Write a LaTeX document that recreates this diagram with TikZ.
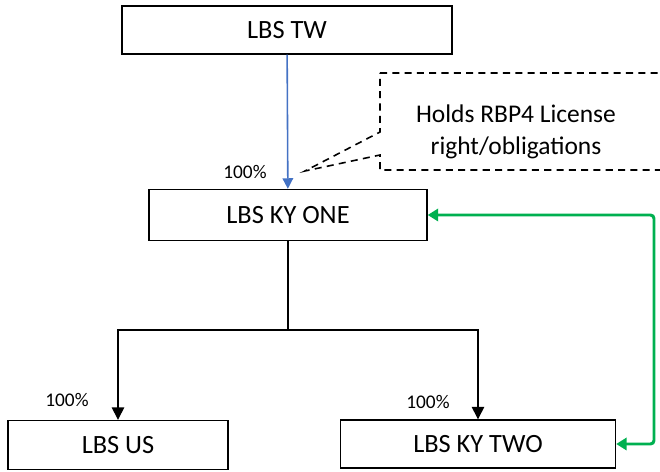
\documentclass[tikz,border=0pt]{standalone}
\usepackage{fontspec}
\setmainfont{Carlito}
\usetikzlibrary{arrows.meta}
\definecolor{linkblue}{RGB}{68,114,196}
\definecolor{linkgreen}{RGB}{0,176,80}
\tikzset{
	entity/.style={draw, line width=0.8pt, fill=white, inner sep=0pt, font=\fontsize{15}{18}\selectfont},
	share/.style={font=\fontsize{11}{13}\selectfont},
	owns/.style={line width=0.8pt, -{Triangle[length=7pt,width=7pt]}},
}
\begin{document}
\begin{tikzpicture}[x=0.02cm, y=-0.02cm]
		\clip (0,0) rectangle (660,472);
		
		\node[entity, minimum width=6.6cm, minimum height=0.96cm] (tw) at (287,30) {LBS TW};
		\node[entity, minimum width=5.56cm, minimum height=1.02cm] (kyone) at (288,215) {LBS KY ONE};
		\node[entity, minimum width=4.4cm, minimum height=0.98cm] (us) at (118,445) {LBS US};
		\node[entity, minimum width=5.5cm, minimum height=0.96cm] (kytwo) at (478,444) {LBS KY TWO};
		
		\node[share] (pct-one) at (245,172) {100\%};
		\node[share] (pct-us) at (67,400) {100\%};
		\node[share] (pct-two) at (428,402) {100\%};
		
		% callout
		\draw[dash pattern=on 4pt off 3pt, line width=0.9pt] (380,73) -- (700,73) -- (700,170) -- (380,170) -- (380,155) -- (305,171) -- (380,132) -- cycle;
		\node[align=center, font=\fontsize{14.5}{18}\selectfont] (note) at (516,132) {Holds RBP4 License\\right/obligations};
		
		\draw[line width=0.9pt, linkblue, -{Triangle[length=6pt,width=6pt]}] (tw) -- (kyone);
		
		\coordinate (split) at (288,330);
		\draw[line width=0.8pt] (kyone) -- (split);
		\draw[owns] (split) -| (us);
		\draw[owns] (split) -| (kytwo);
		
		\coordinate (green-x) at (654,0);
		\draw[line width=1.7pt, linkgreen, rounded corners=2pt, {Triangle[length=6pt,width=7pt]}-{Triangle[length=6pt,width=7pt]}] (kyone.east) -- (kyone.east -| green-x) -- (kytwo.east -| green-x) -- (kytwo.east);
	\end{tikzpicture}
\end{document}
